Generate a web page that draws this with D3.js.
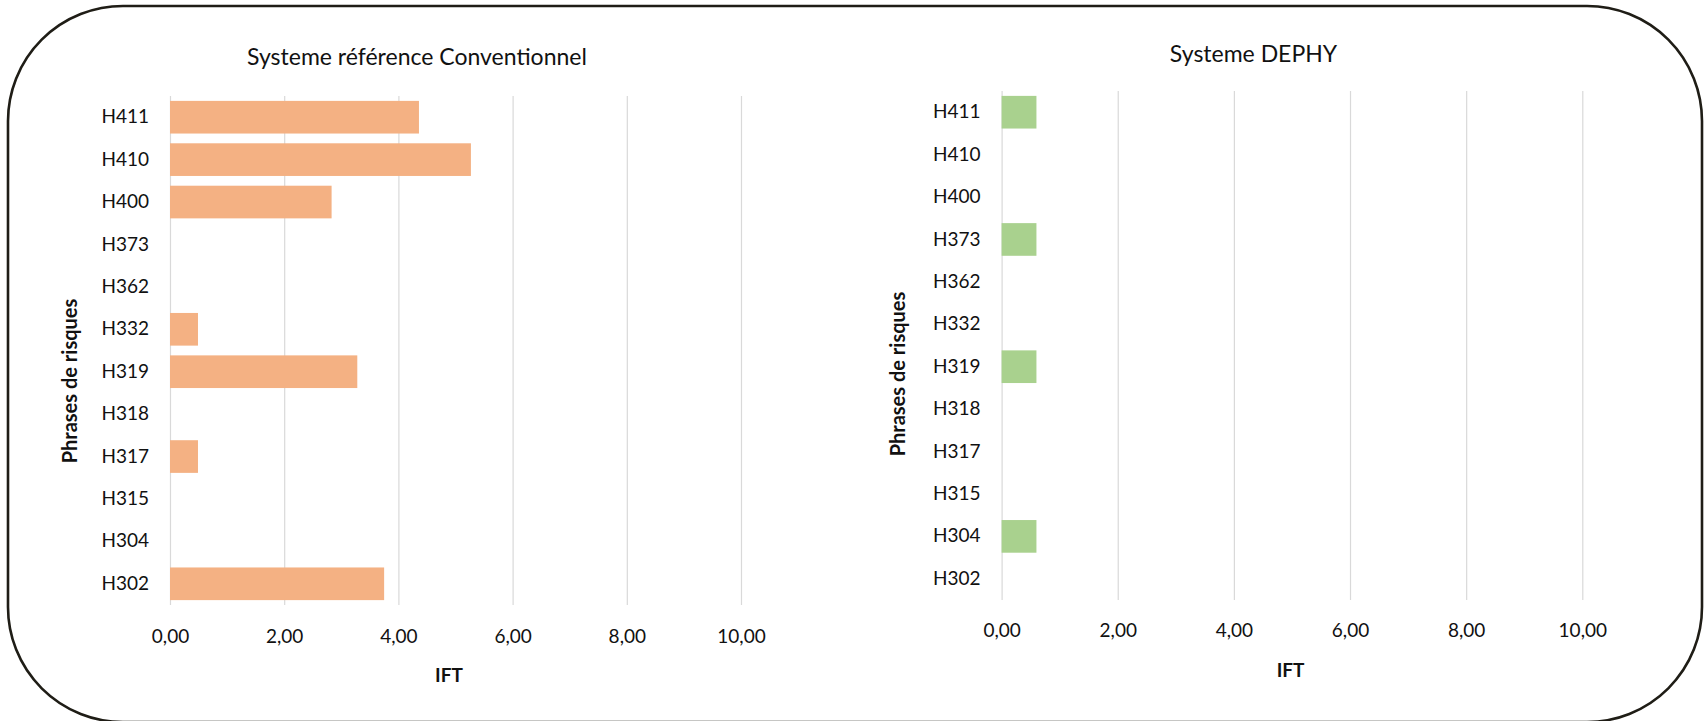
<!DOCTYPE html>
<html>
<head>
<meta charset="utf-8">
<script src="https://cdn.jsdelivr.net/npm/d3@7/dist/d3.min.js"></script>
<style>
  html, body { margin: 0; padding: 0; background: #fff; }
  svg { display: block; }
  text { font-family: Lato, "Open Sans", sans-serif; fill: #111; }
</style>
</head>
<body>
<svg id="chart" width="1705" height="721"></svg>
<script>
const categories = ["H411","H410","H400","H373","H362","H332","H319","H318","H317","H315","H304","H302"];
const conventionnelValues = [4.36, 5.27, 2.83, 0, 0, 0.49, 3.28, 0, 0.49, 0, 0, 3.75];
const dephyValues = [0.6, 0, 0, 0.6, 0, 0, 0.6, 0, 0, 0, 0.6, 0];
const xTicks = [0, 2, 4, 6, 8, 10];
const chartTitles = ["Systeme référence Conventionnel", "Systeme DEPHY"];
const xAxisTitle = "IFT";
const yAxisTitle = "Phrases de risques";

const svg = d3.select("#chart");

// rounded frame
svg.append("rect")
  .attr("x", 8).attr("y", 6)
  .attr("width", 1694).attr("height", 716)
  .attr("rx", 115).attr("ry", 115)
  .attr("fill", "#fff")
  .attr("stroke", "#1f1d16")
  .attr("stroke-width", 2.6);

const frLocale = d3.formatLocale({decimal: ",", thousands: " ", grouping: [3], currency: ["", " €"]});
const fmt = frLocale.format(".2f");

const panels = [
  { values: conventionnelValues, title: chartTitles[0], color: "#F4B183",
    x0: 170, x1: 741, top: 96, bottom: 605,
    titleX: 417, titleY: 57, tickY: 636, iftX: 449, iftY: 675, yTitleX: 77, yTitleY: 381 },
  { values: dephyValues, title: chartTitles[1], color: "#A9D18E",
    x0: 1001.6, x1: 1582.3, top: 91, bottom: 600,
    titleX: 1253.5, titleY: 54, tickY: 630, iftX: 1290.6, iftY: 670, yTitleX: 905, yTitleY: 374 }
];

panels.forEach(p => {
  const x = d3.scaleLinear().domain([0, 10]).range([p.x0, p.x1]);
  const y = d3.scaleBand().domain(categories).range([p.top, p.bottom])
    .paddingInner(0.23).paddingOuter(0.115);
  const g = svg.append("g");

  // gridlines
  const grid = g.append("g")
    .attr("transform", `translate(0,${p.bottom})`)
    .call(d3.axisBottom(x).tickValues(xTicks).tickSize(-(p.bottom - p.top)).tickFormat(""));
  grid.select(".domain").remove();
  grid.selectAll("line").attr("stroke", "#d9d9d9").attr("stroke-width", 1.2);

  // bars
  g.selectAll("rect.bar")
    .data(categories.map((c, i) => ({ c, v: p.values[i] })).filter(d => d.v > 0))
    .enter().append("rect")
    .attr("class", "bar")
    .attr("x", x(0))
    .attr("y", d => y(d.c))
    .attr("width", d => x(d.v) - x(0))
    .attr("height", y.bandwidth())
    .attr("fill", p.color);

  // x tick labels
  const xa = g.append("g")
    .attr("transform", `translate(0,${p.tickY})`)
    .call(d3.axisBottom(x).tickValues(xTicks).tickSize(0).tickPadding(0).tickFormat(fmt));
  xa.select(".domain").remove();
  xa.selectAll("text")
    .attr("dy", "0.35em")
    .attr("y", 0)
    .style("font-size", "19px");

  // category labels
  const ya = g.append("g")
    .attr("transform", `translate(${x(0)},0)`)
    .call(d3.axisLeft(y).tickSize(0).tickPadding(21));
  ya.select(".domain").remove();
  ya.selectAll("text").style("font-size", "19px");

  // titles
  g.append("text")
    .attr("x", p.titleX).attr("y", p.titleY)
    .attr("text-anchor", "middle").attr("dy", "0.35em")
    .style("font-size", "23px")
    .text(p.title);

  g.append("text")
    .attr("x", p.iftX).attr("y", p.iftY)
    .attr("text-anchor", "middle").attr("dy", "0.35em")
    .style("font-size", "19px").style("font-weight", "bold")
    .text(xAxisTitle);

  g.append("text")
    .attr("transform", `translate(${p.yTitleX},${p.yTitleY}) rotate(-90)`)
    .attr("text-anchor", "middle")
    .style("font-size", "20px").style("font-weight", "bold")
    .text(yAxisTitle);
});
</script>
</body>
</html>
